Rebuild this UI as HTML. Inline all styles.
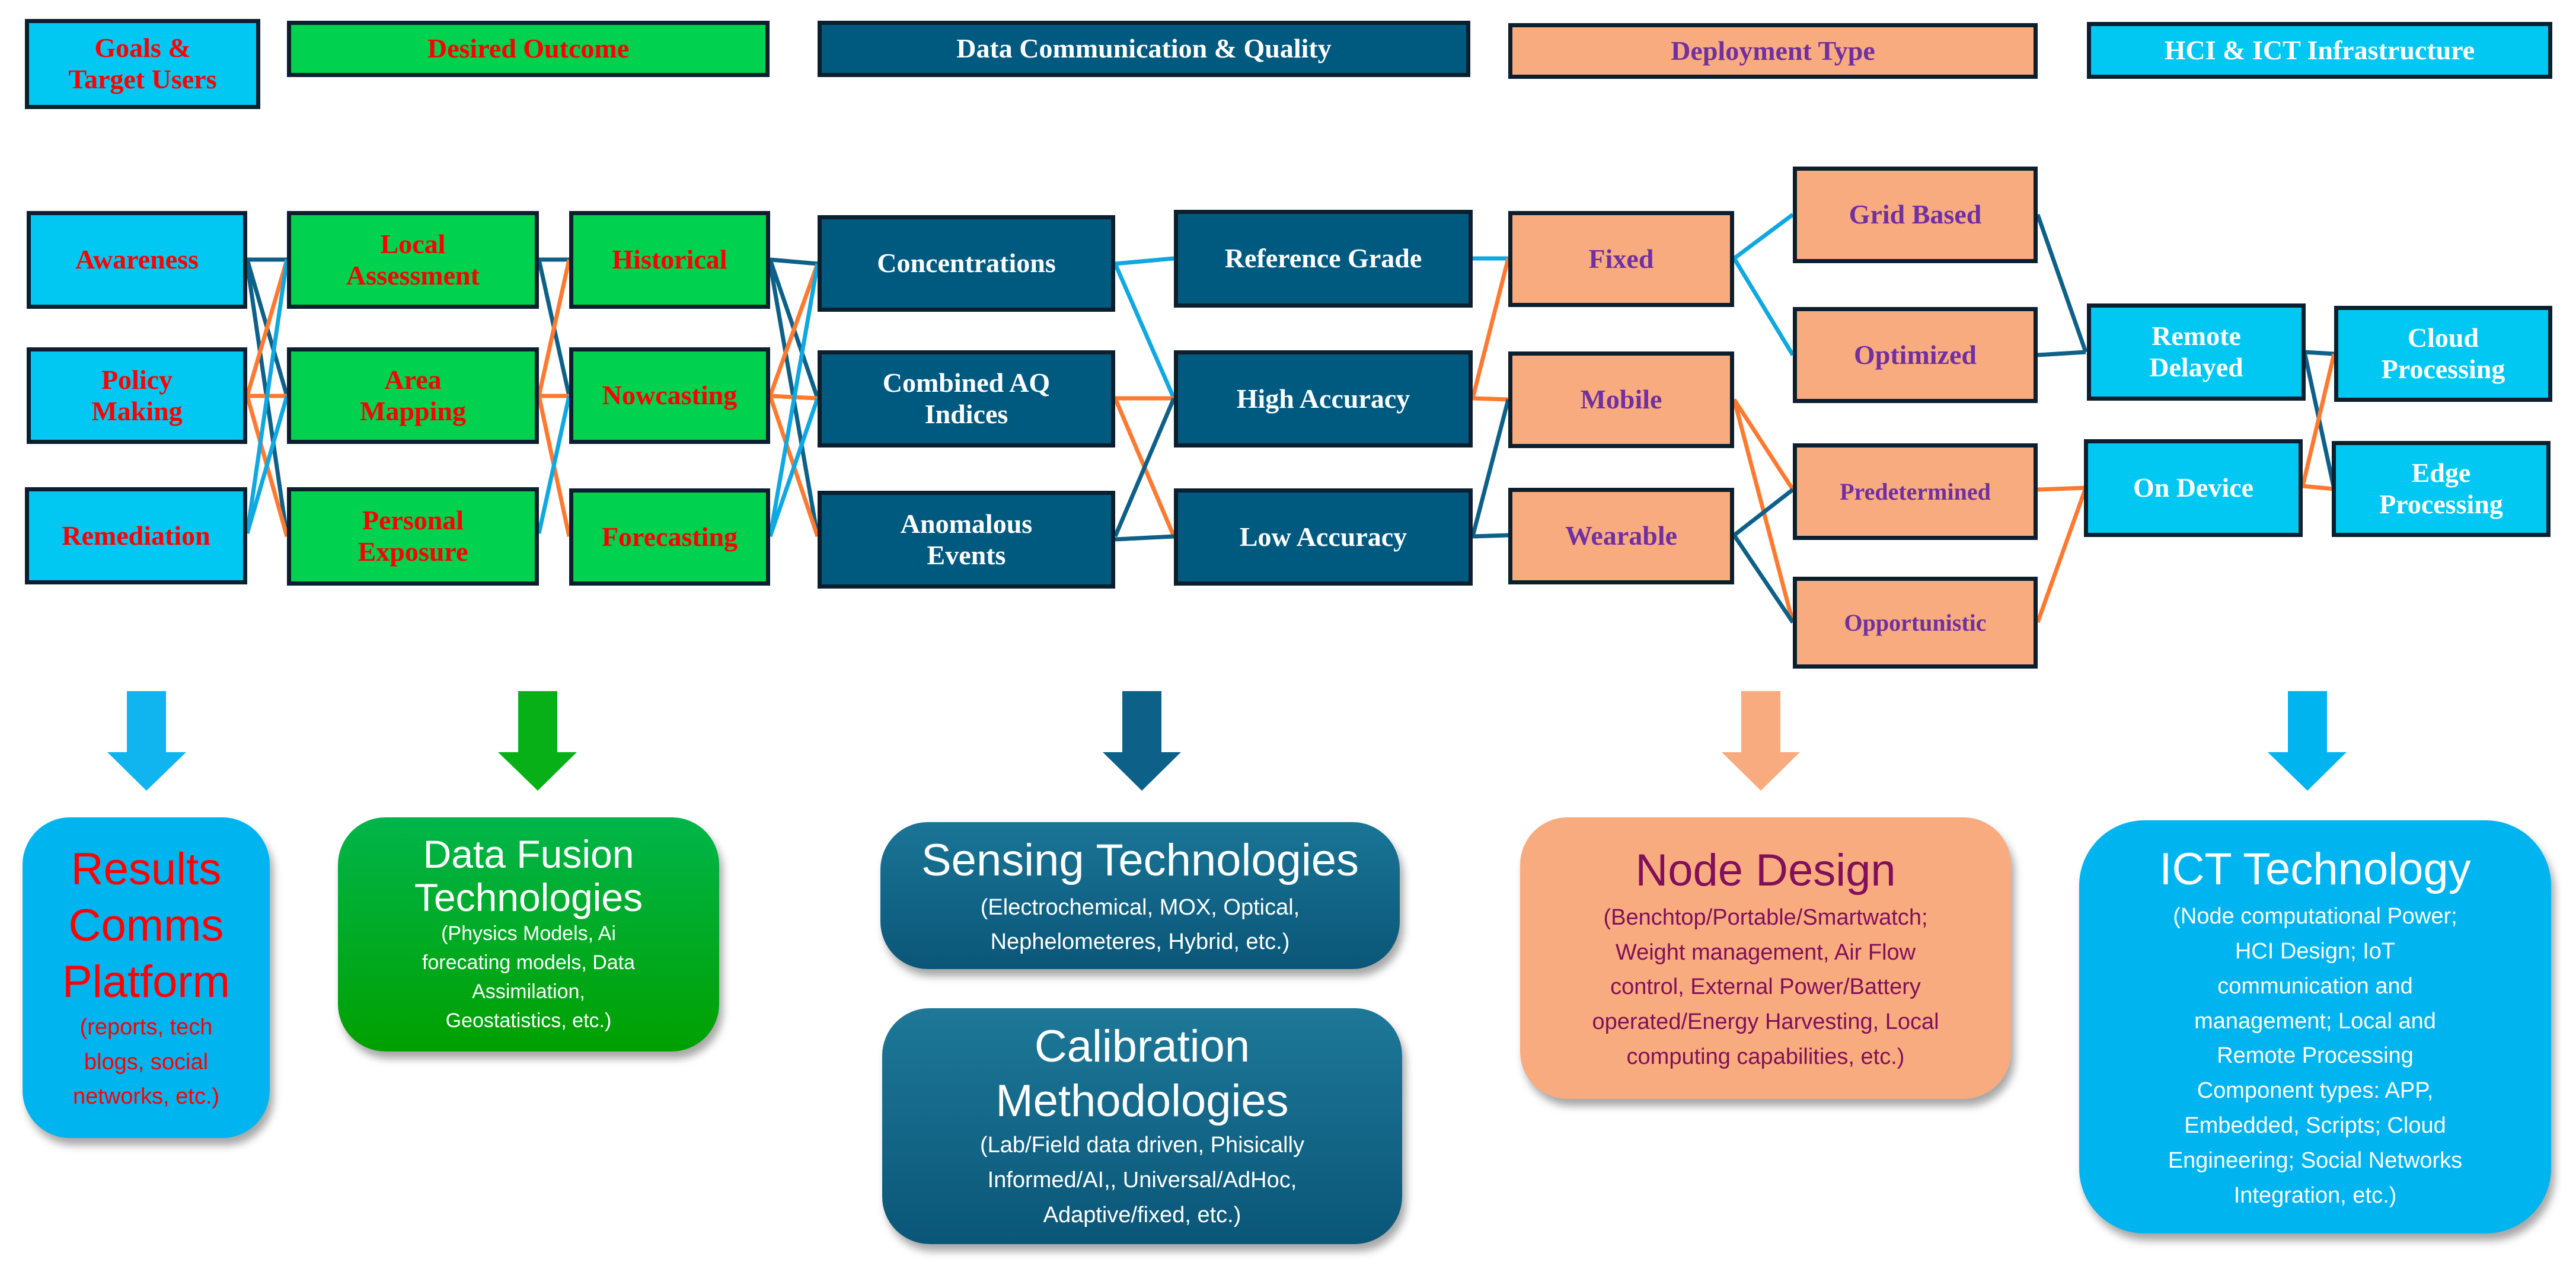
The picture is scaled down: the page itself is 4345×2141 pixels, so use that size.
<!DOCTYPE html>
<html><head><meta charset="utf-8">
<style>
*{margin:0;padding:0;box-sizing:border-box}
body{width:4345px;height:2141px;background:#fff;position:relative;overflow:hidden}
.b{position:absolute;display:flex;align-items:center;justify-content:center;text-align:center;border:7px solid #0b1f2e;font-family:"Liberation Serif",serif;font-weight:bold;font-size:46px;line-height:1.15}
.cy{background:#00c8f2;color:#ff0000}
.cyw{background:#00c8f2;color:#fff}
.gr{background:#00d14e;color:#ff0000}
.dk{background:#005a80;color:#fff}
.pc{background:#f9ab80;color:#7030a0}
.r{position:absolute;border-radius:80px;display:flex;flex-direction:column;align-items:center;justify-content:center;text-align:center;font-family:"Liberation Sans Narrow","Liberation Sans",sans-serif;box-shadow:6px 12px 14px rgba(0,0,0,.35)}
.r .t{font-size:76px;line-height:1.3}
.r .s{font-size:38px;line-height:1.55}
svg{position:absolute;left:0;top:0}
</style></head><body>

<div class="b cy" style="left:42px;top:32px;width:397px;height:152px">Goals &amp;<br>Target Users</div>
<div class="b gr" style="left:484px;top:35px;width:814px;height:95px">Desired Outcome</div>
<div class="b dk" style="left:1379px;top:35px;width:1101px;height:95px">Data Communication &amp; Quality</div>
<div class="b pc" style="left:2544px;top:39px;width:893px;height:94px">Deployment Type</div>
<div class="b cyw" style="left:3520px;top:37px;width:785px;height:96px">HCI &amp; ICT Infrastructure</div>

<svg width="4345" height="2141" style="z-index:0">
<g stroke-width="7" fill="none">
<line x1="417" y1="438" x2="484" y2="438" stroke="#0d6088"/>
<line x1="417" y1="438" x2="484" y2="668" stroke="#0d6088"/>
<line x1="417" y1="445" x2="484" y2="905" stroke="#0d6088"/>
<line x1="417" y1="668" x2="484" y2="438" stroke="#ff7a30"/>
<line x1="417" y1="668" x2="484" y2="668" stroke="#ff7a30"/>
<line x1="417" y1="668" x2="484" y2="905" stroke="#ff7a30"/>
<line x1="417" y1="900" x2="484" y2="438" stroke="#10a8e0"/>
<line x1="417" y1="900" x2="484" y2="668" stroke="#10a8e0"/>
<line x1="484" y1="503" x2="544" y2="503" stroke="#0d6088"/>
<line x1="909" y1="438" x2="960" y2="438" stroke="#0d6088"/>
<line x1="909" y1="438" x2="960" y2="668" stroke="#0d6088"/>
<line x1="909" y1="668" x2="960" y2="438" stroke="#ff7a30"/>
<line x1="909" y1="668" x2="960" y2="668" stroke="#ff7a30"/>
<line x1="909" y1="668" x2="960" y2="905" stroke="#ff7a30"/>
<line x1="909" y1="900" x2="960" y2="668" stroke="#10a8e0"/>
<line x1="1299" y1="438" x2="1379" y2="445" stroke="#0d6088"/>
<line x1="1299" y1="438" x2="1379" y2="672" stroke="#0d6088"/>
<line x1="1299" y1="445" x2="1379" y2="905" stroke="#0d6088"/>
<line x1="1299" y1="668" x2="1379" y2="445" stroke="#ff7a30"/>
<line x1="1299" y1="668" x2="1379" y2="672" stroke="#ff7a30"/>
<line x1="1299" y1="668" x2="1379" y2="905" stroke="#ff7a30"/>
<line x1="1299" y1="905" x2="1379" y2="445" stroke="#10a8e0"/>
<line x1="1299" y1="905" x2="1379" y2="672" stroke="#10a8e0"/>
<line x1="1881" y1="445" x2="1980" y2="436" stroke="#10a8e0"/>
<line x1="1881" y1="445" x2="1980" y2="672" stroke="#10a8e0"/>
<line x1="1881" y1="672" x2="1980" y2="672" stroke="#ff7a30"/>
<line x1="1881" y1="672" x2="1980" y2="905" stroke="#ff7a30"/>
<line x1="1881" y1="905" x2="1980" y2="672" stroke="#0d6088"/>
<line x1="1881" y1="910" x2="1980" y2="905" stroke="#0d6088"/>
<line x1="2484" y1="436" x2="2544" y2="436" stroke="#10a8e0"/>
<line x1="2484" y1="672" x2="2544" y2="436" stroke="#ff7a30"/>
<line x1="2484" y1="672" x2="2544" y2="674" stroke="#ff7a30"/>
<line x1="2484" y1="905" x2="2544" y2="674" stroke="#0d6088"/>
<line x1="2484" y1="905" x2="2544" y2="903" stroke="#0d6088"/>
<line x1="2925" y1="436" x2="3024" y2="362" stroke="#10a8e0"/>
<line x1="2925" y1="436" x2="3024" y2="599" stroke="#10a8e0"/>
<line x1="2925" y1="674" x2="3024" y2="826" stroke="#ff7a30"/>
<line x1="2925" y1="674" x2="3024" y2="1050" stroke="#ff7a30"/>
<line x1="2925" y1="903" x2="3024" y2="826" stroke="#0d6088"/>
<line x1="2925" y1="903" x2="3024" y2="1050" stroke="#0d6088"/>
<line x1="3437" y1="362" x2="3518" y2="594" stroke="#0d6088"/>
<line x1="3437" y1="599" x2="3518" y2="594" stroke="#0d6088"/>
<line x1="3437" y1="826" x2="3518" y2="823" stroke="#ff7a30"/>
<line x1="3437" y1="1050" x2="3518" y2="823" stroke="#ff7a30"/>
<line x1="3887" y1="594" x2="3937" y2="597" stroke="#0d6088"/>
<line x1="3887" y1="594" x2="3937" y2="825" stroke="#0d6088"/>
<line x1="3884" y1="820" x2="3937" y2="597" stroke="#ff7a30"/>
<line x1="3884" y1="820" x2="3937" y2="825" stroke="#ff7a30"/>
</g>
<g>
<polygon points="214,1166 280,1166 280,1269 314,1269 247,1334 181,1269 214,1269" fill="#10b4ee"/>
<polygon points="874,1166 940,1166 940,1269 973,1269 907,1334 840,1269 874,1269" fill="#08b018"/>
<polygon points="1893,1166 1959,1166 1959,1269 1992,1269 1926,1334 1860,1269 1893,1269" fill="#0d6088"/>
<polygon points="2937,1166 3003,1166 3003,1269 3036,1269 2970,1334 2904,1269 2937,1269" fill="#f9ab80"/>
<polygon points="3859,1166 3925,1166 3925,1269 3958,1269 3892,1334 3825,1269 3859,1269" fill="#00b4ef"/>
</g>
</svg>

<div class="b cy" style="left:45px;top:356px;width:372px;height:165px">Awareness</div>
<div class="b cy" style="left:45px;top:586px;width:372px;height:163px">Policy<br>Making</div>
<div class="b cy" style="left:42px;top:822px;width:375px;height:164px">Remediation</div>

<div class="b gr" style="left:484px;top:356px;width:425px;height:165px">Local<br>Assessment</div>
<div class="b gr" style="left:484px;top:586px;width:425px;height:163px">Area<br>Mapping</div>
<div class="b gr" style="left:484px;top:822px;width:425px;height:166px">Personal<br>Exposure</div>

<div class="b gr" style="left:960px;top:356px;width:339px;height:165px">Historical</div>
<div class="b gr" style="left:960px;top:586px;width:339px;height:163px">Nowcasting</div>
<div class="b gr" style="left:960px;top:824px;width:339px;height:164px">Forecasting</div>

<div class="b dk" style="left:1379px;top:363px;width:502px;height:163px">Concentrations</div>
<div class="b dk" style="left:1379px;top:591px;width:502px;height:164px">Combined AQ<br>Indices</div>
<div class="b dk" style="left:1379px;top:828px;width:502px;height:165px">Anomalous<br>Events</div>

<div class="b dk" style="left:1980px;top:354px;width:504px;height:165px">Reference Grade</div>
<div class="b dk" style="left:1980px;top:591px;width:504px;height:164px">High Accuracy</div>
<div class="b dk" style="left:1980px;top:824px;width:504px;height:164px">Low Accuracy</div>

<div class="b pc" style="left:2544px;top:356px;width:381px;height:162px">Fixed</div>
<div class="b pc" style="left:2544px;top:593px;width:381px;height:163px">Mobile</div>
<div class="b pc" style="left:2544px;top:823px;width:381px;height:163px">Wearable</div>

<div class="b pc" style="left:3024px;top:281px;width:413px;height:163px">Grid Based</div>
<div class="b pc" style="left:3024px;top:518px;width:413px;height:162px">Optimized</div>
<div class="b pc" style="left:3024px;top:748px;width:413px;height:163px;font-size:40px">Predetermined</div>
<div class="b pc" style="left:3024px;top:973px;width:413px;height:155px;font-size:40px">Opportunistic</div>

<div class="b cyw" style="left:3520px;top:512px;width:369px;height:164px">Remote<br>Delayed</div>
<div class="b cyw" style="left:3515px;top:741px;width:369px;height:165px">On Device</div>
<div class="b cyw" style="left:3937px;top:516px;width:368px;height:162px">Cloud<br>Processing</div>
<div class="b cyw" style="left:3933px;top:744px;width:369px;height:162px">Edge<br>Processing</div>

<div class="r" style="left:38px;top:1379px;width:417px;height:541px;background:#00b4f0;color:#ff0000">
<div class="t" style="line-height:1.25">Results<br>Comms<br>Platform</div>
<div class="s">(reports, tech<br>blogs, social<br>networks, etc.)</div></div>

<div class="r" style="left:570px;top:1379px;width:643px;height:395px;background:linear-gradient(#00b54a,#00a000);color:#fff">
<div class="t" style="line-height:1.1;font-size:66px">Data Fusion<br>Technologies</div>
<div class="s" style="font-size:34px;line-height:1.45">(Physics Models, Ai<br>forecating models, Data<br>Assimilation,<br>Geostatistics, etc.)</div></div>

<div class="r" style="left:1485px;top:1387px;width:876px;height:248px;background:linear-gradient(#1a7596,#0a5678);color:#fff">
<div class="t">Sensing Technologies</div>
<div class="s">(Electrochemical, MOX, Optical,<br>Nephelometeres, Hybrid, etc.)</div></div>

<div class="r" style="left:1488px;top:1701px;width:877px;height:398px;background:linear-gradient(#1e7898,#0a5678);color:#fff">
<div class="t" style="line-height:1.2">Calibration<br>Methodologies</div>
<div class="s">(Lab/Field data driven, Phisically<br>Informed/AI,, Universal/AdHoc,<br>Adaptive/fixed,  etc.)</div></div>

<div class="r" style="left:2564px;top:1379px;width:828px;height:475px;background:#f9ab80;color:#80105a">
<div class="t">Node Design</div>
<div class="s">(Benchtop/Portable/Smartwatch;<br>Weight management, Air Flow<br>control, External Power/Battery<br>operated/Energy Harvesting, Local<br>computing capabilities, etc.)</div></div>

<div class="r" style="left:3507px;top:1384px;width:796px;height:697px;background:#00b4f0;color:#fff;border-radius:110px">
<div class="t">ICT Technology</div>
<div class="s">(Node computational Power;<br>HCI Design; IoT<br>communication and<br>management; Local and<br>Remote Processing<br>Component types: APP,<br>Embedded,  Scripts;  Cloud<br>Engineering; Social Networks<br>Integration, etc.)</div></div>

</body></html>
